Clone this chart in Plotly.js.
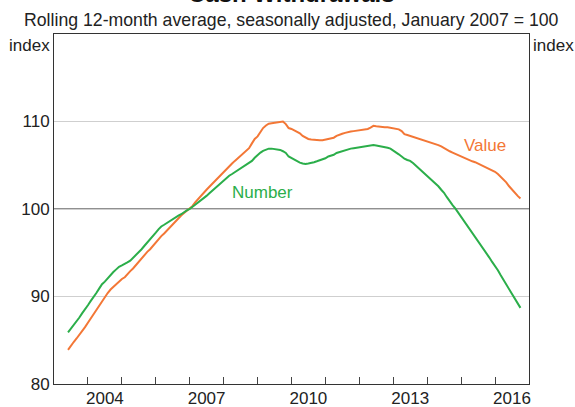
<!DOCTYPE html>
<html>
<head>
<meta charset="utf-8">
<script src="https://cdn.plot.ly/plotly-3.0.1.min.js"></script>
<style>html,body{margin:0;padding:0;background:#fff;}#chart{width:575px;height:407px;}</style>
</head>
<body>
<div id="chart"></div>
<script>
// Monthly observations, Jun 2003 to Oct 2016
var startYear = 2003, startMonth = 6;
var numberValues = [
85.9,86.3,86.8,87.2,87.6,88.1,88.5,89.0,89.5,89.9,90.4,90.9,
91.4,91.7,92.1,92.5,92.8,93.1,93.4,93.55,
93.7,93.9,94.1,94.4,94.8,
95.1,95.4,95.8,96.2,96.5,96.9,97.3,97.7,98.0,98.2,98.4,98.7,
98.9,99.1,99.25,99.4,99.65,99.85,100.0,100.25,100.55,100.8,100.95,101.2,
101.5,101.8,102.1,102.4,102.7,102.95,103.2,103.5,103.8,104.0,104.2,104.45,
104.65,104.9,105.1,105.3,105.5,105.85,106.2,106.45,106.65,106.8,106.9,106.9,
106.85,106.8,106.75,106.6,106.4,106.0,105.8,105.6,105.45,105.3,105.2,105.15,
105.2,105.25,105.35,105.45,105.55,105.65,105.8,106.0,106.1,106.2,106.4,106.5,
106.6,106.75,106.85,106.9,106.95,107.0,107.0,107.05,107.1,107.15,107.25,107.3,
107.25,107.2,107.15,107.1,107.0,106.9,106.7,106.5,106.25,106.0,105.75,105.6,
105.5,
105.25,104.95,104.65,104.35,104.1,103.85,103.55,103.3,103.0,102.6,102.2,101.85,
101.35,100.85,100.45,100.05,99.6,99.15,98.65,98.2,97.8,97.35,96.9,96.45,
95.95,95.45,94.95,94.45,93.95,93.5,93.0,92.45,91.9,91.35,90.75,90.2,
89.7,89.2,88.7
];
var valueValues = [
83.9,84.4,84.8,85.2,85.6,86.1,86.5,87.0,87.5,88.0,88.5,88.9,
89.4,89.9,90.4,90.8,91.1,91.5,91.8,92.0,
92.2,92.6,92.9,93.2,93.6,
94.0,94.3,94.8,95.1,95.4,95.8,96.1,96.5,96.9,97.2,97.55,97.9,
98.2,98.55,98.9,99.25,99.55,99.8,100.0,100.35,100.75,101.15,101.5,101.85,
102.2,102.55,102.9,103.2,103.55,103.9,104.25,104.6,104.9,105.2,105.5,105.8,
106.1,106.4,106.65,106.95,107.5,108.0,108.3,108.75,109.25,109.55,109.75,109.8,
109.85,109.9,109.95,110.0,109.7,109.25,109.15,109.0,108.85,108.65,108.35,108.15,
108.0,107.95,107.9,107.9,107.85,107.85,107.95,108.0,108.1,108.15,108.35,108.5,
108.6,108.7,108.8,108.85,108.9,108.95,108.95,109.0,109.05,109.15,109.3,109.5,
109.45,109.4,109.4,109.35,109.35,109.3,109.25,109.2,109.1,108.9,108.55,108.45,
108.35,
108.3,108.15,108.05,107.95,107.85,107.75,107.65,107.55,107.45,107.3,107.15,106.95,
106.8,106.6,106.45,106.3,106.15,106.0,105.85,105.7,105.55,105.45,105.35,105.2,
105.1,104.95,104.8,104.65,104.45,104.25,104.0,103.7,103.4,103.05,102.6,102.2,
101.85,101.5,101.2
];
var tickYears = ['2004','2007','2010','2013','2016'];
var yTicks = [80, 90, 100, 110];

var dates = [];
for (var i = 0; i < numberValues.length; i++) {
  var m = startMonth - 1 + i;
  var yy = startYear + Math.floor(m / 12);
  var mm = (m % 12) + 1;
  dates.push(yy + '-' + (mm < 10 ? '0' + mm : mm) + '-01');
}
var labelVals = tickYears.map(function (y) { return y + '-07-02'; });
var yearTicks = [], blank = [];
for (var y = 2003; y <= 2017; y++) { yearTicks.push(y + '-01-01'); blank.push(''); }

var orange = '#F37736', green = '#2BAE4A';
var font = 'Arial, "Liberation Sans", sans-serif';
var xRange = ['2003-01-01', '2017-01-01'];

var traces = [
  {x: dates, y: valueValues, type: 'scatter', mode: 'lines', name: 'Value',
   xaxis: 'x', yaxis: 'y',
   line: {color: orange, width: 2}, hoverinfo: 'skip'},
  {x: dates, y: numberValues, type: 'scatter', mode: 'lines', name: 'Number',
   xaxis: 'x2', yaxis: 'y',
   line: {color: green, width: 2}, hoverinfo: 'skip'}
];

var layout = {
  width: 575, height: 407,
  margin: {l: 54, r: 46, t: 34, b: 23, pad: 0},
  paper_bgcolor: '#fff', plot_bgcolor: '#fff',
  showlegend: false,
  font: {family: font, size: 17, color: '#222'},
  xaxis: {
    type: 'date', range: xRange,
    tickmode: 'array', tickvals: yearTicks, ticktext: blank,
    ticks: 'inside', ticklen: 7, tickcolor: '#444', tickwidth: 1,
    showgrid: false, zeroline: false,
    showline: true, linecolor: '#333', linewidth: 1, mirror: true
  },
  xaxis2: {
    type: 'date', range: xRange, overlaying: 'x', anchor: 'y', side: 'bottom',
    tickmode: 'array', tickvals: labelVals, ticktext: tickYears,
    ticks: '', ticklen: 0, ticklabelstandoff: 2, showgrid: false, zeroline: false, showline: false,
    tickfont: {family: font, size: 17, color: '#222'}
  },
  yaxis: {
    range: [80, 120], tickmode: 'array', tickvals: yTicks,
    ticks: '', showgrid: true, gridcolor: '#cfcfcf', gridwidth: 1, zeroline: false,
    showline: true, linecolor: '#333', linewidth: 1, mirror: true,
    tickfont: {family: font, size: 17, color: '#222'}
  },
  yaxis2: {
    range: [80, 120], tickmode: 'array', tickvals: yTicks, overlaying: 'y', side: 'right',
    ticks: '', showgrid: false, zeroline: false, showline: false,
    tickfont: {family: font, size: 17, color: '#222'}
  },
  shapes: [
    {type: 'line', xref: 'paper', x0: 0, x1: 1, yref: 'y', y0: 100, y1: 100,
     line: {color: '#222', width: 1.2}, layer: 'below'}
  ],
  annotations: [
    {text: '<b>Cash Withdrawals</b>', xref: 'paper', yref: 'paper', x: 0.5, y: 1,
     xanchor: 'center', yanchor: 'middle', yshift: 41, showarrow: false,
     font: {family: font, size: 24, color: '#111'}},
    {text: 'Rolling 12-month average, seasonally adjusted, January 2007 = 100',
     xref: 'paper', yref: 'paper', x: 0.5, y: 1, xanchor: 'center', yanchor: 'middle',
     yshift: 14, showarrow: false, font: {family: font, size: 17.7, color: '#222'}},
    {text: 'index', xref: 'paper', yref: 'paper', x: 0, y: 1, xanchor: 'right', yanchor: 'middle',
     xshift: -2, yshift: -11, showarrow: false, font: {family: font, size: 17, color: '#222'}},
    {text: 'index', xref: 'paper', yref: 'paper', x: 1, y: 1, xanchor: 'left', yanchor: 'middle',
     xshift: 2, yshift: -11, showarrow: false, font: {family: font, size: 17, color: '#222'}},
    {text: 'Value', xref: 'x', yref: 'y', x: '2015-09-17', y: 107.27, xanchor: 'center', yanchor: 'middle',
     showarrow: false, font: {family: font, size: 17, color: orange}},
    {text: 'Number', xref: 'x', yref: 'y', x: '2009-02-26', y: 101.94, xanchor: 'center', yanchor: 'middle',
     showarrow: false, font: {family: font, size: 17, color: green}}
  ]
};

Plotly.newPlot('chart', traces, layout, {staticPlot: true, displayModeBar: false});
</script>
</body>
</html>
